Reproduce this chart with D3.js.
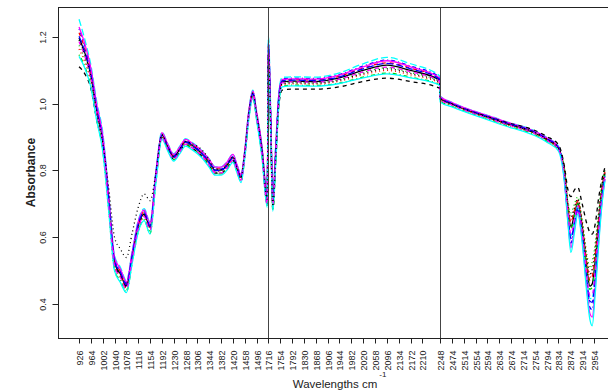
<!DOCTYPE html>
<html>
<head>
<meta charset="utf-8">
<script src="https://cdn.jsdelivr.net/npm/d3@7"></script>
<style>
  body { margin: 0; background: #fff; }
  text { font-family: "Liberation Sans", Arial, Helvetica, sans-serif; }
</style>
</head>
<body>
<svg id="chart" width="608" height="391"></svg>
<script>
// spectra grid (cm-1); 1530..1716 and 2248..2474 are cut out of the axis
const wavenumbers = [926, 945, 964, 983, 1002, 1021, 1040, 1059, 1078, 1097, 1116, 1135, 1154, 1173, 1192, 1211, 1230, 1249, 1268, 1287, 1306, 1325, 1344, 1363, 1382, 1401, 1420, 1432, 1446, 1458, 1470, 1484, 1496, 1513, 1530,
  1716, 1723, 1730, 1740, 1750, 1760, 1792, 1868, 1944, 2020, 2096, 2172, 2246,
  2248, 2474, 2634, 2794, 2834, 2854, 2866, 2876, 2888, 2899, 2914, 2930, 2940, 2948, 2958, 2970, 2980, 2991];

const sample01 = [1.196,1.150,1.084,0.978,0.888,0.710,0.525,0.490,0.455,0.545,0.635,0.670,0.630,0.785,0.906,0.871,0.841,0.863,0.886,0.876,0.863,0.846,0.824,0.801,0.801,0.816,0.839,0.811,0.779,0.851,0.962,1.031,0.967,0.862,0.712,
  1.164,0.954,0.703,0.863,1.022,1.065,1.067,1.066,1.077,1.099,1.115,1.099,1.070,
  1.015,0.998,0.947,0.893,0.866,0.793,0.684,0.632,0.670,0.703,0.629,0.507,0.454,0.461,0.529,0.646,0.734,0.792];
const sample02 = [1.212,1.163,1.094,0.987,0.897,0.719,0.533,0.498,0.461,0.551,0.641,0.676,0.636,0.791,0.911,0.876,0.846,0.868,0.891,0.881,0.868,0.851,0.830,0.807,0.807,0.822,0.845,0.817,0.785,0.857,0.968,1.036,0.973,0.870,0.720,
  1.176,0.966,0.710,0.872,1.028,1.069,1.072,1.071,1.082,1.106,1.122,1.106,1.074,
  1.018,1.000,0.949,0.895,0.868,0.798,0.692,0.646,0.680,0.709,0.637,0.521,0.472,0.483,0.547,0.658,0.742,0.796];
const sample03 = [1.174,1.132,1.070,0.966,0.876,0.692,0.510,0.475,0.443,0.533,0.623,0.658,0.618,0.773,0.900,0.865,0.835,0.857,0.880,0.870,0.857,0.840,0.817,0.794,0.794,0.809,0.832,0.804,0.772,0.844,0.954,1.025,0.959,0.852,0.702,
  1.152,0.942,0.695,0.854,1.016,1.060,1.063,1.062,1.072,1.093,1.107,1.093,1.065,
  1.012,0.996,0.945,0.891,0.864,0.808,0.708,0.674,0.700,0.721,0.653,0.549,0.508,0.527,0.583,0.682,0.758,0.804];
const sample04 = [1.223,1.172,1.101,0.993,0.903,0.725,0.538,0.503,0.465,0.555,0.645,0.680,0.640,0.795,0.909,0.874,0.844,0.866,0.889,0.879,0.866,0.849,0.827,0.804,0.804,0.819,0.842,0.814,0.782,0.854,0.965,1.034,0.970,0.866,0.716,
  1.188,0.978,0.718,0.881,1.034,1.074,1.076,1.075,1.087,1.112,1.130,1.112,1.079,
  1.020,1.002,0.951,0.897,0.870,0.775,0.656,0.583,0.635,0.682,0.601,0.458,0.391,0.384,0.466,0.604,0.706,0.778];
const sample05 = [1.252,1.190,1.115,1.005,0.915,0.734,0.545,0.510,0.471,0.561,0.651,0.686,0.646,0.801,0.915,0.880,0.850,0.872,0.895,0.885,0.872,0.855,0.834,0.811,0.811,0.826,0.849,0.821,0.789,0.861,0.972,1.040,0.977,0.876,0.726,
  1.200,0.990,0.725,0.890,1.040,1.078,1.080,1.079,1.092,1.119,1.138,1.119,1.083,
  1.023,1.004,0.953,0.899,0.872,0.783,0.668,0.604,0.650,0.691,0.613,0.479,0.418,0.417,0.493,0.622,0.718,0.784];
const sample06 = [1.229,1.177,1.105,0.996,0.906,0.728,0.540,0.505,0.467,0.557,0.647,0.682,0.642,0.797,0.913,0.878,0.848,0.870,0.893,0.883,0.870,0.853,0.833,0.810,0.810,0.825,0.848,0.820,0.788,0.860,0.970,1.038,0.975,0.874,0.724,
  1.184,0.974,0.715,0.878,1.032,1.072,1.074,1.073,1.085,1.110,1.128,1.110,1.077,
  1.021,1.003,0.952,0.898,0.871,0.770,0.648,0.569,0.625,0.676,0.593,0.444,0.373,0.362,0.448,0.592,0.698,0.774];
const sample07 = [1.110,1.088,1.045,0.950,0.870,0.704,0.520,0.485,0.451,0.541,0.631,0.666,0.626,0.781,0.898,0.863,0.833,0.855,0.878,0.868,0.855,0.838,0.815,0.792,0.792,0.807,0.830,0.802,0.770,0.842,0.951,1.021,0.956,0.848,0.698,
  1.125,0.915,0.685,0.838,1.000,1.040,1.043,1.043,1.050,1.066,1.076,1.066,1.046,
  1.016,0.999,0.950,0.902,0.877,0.812,0.742,0.722,0.742,0.750,0.700,0.640,0.615,0.610,0.640,0.720,0.770,0.810];
const sample08 = [1.163,1.123,1.063,0.960,0.870,0.701,0.518,0.483,0.449,0.539,0.629,0.664,0.624,0.779,0.903,0.868,0.838,0.860,0.883,0.873,0.860,0.843,0.820,0.797,0.797,0.812,0.835,0.807,0.775,0.847,0.957,1.028,0.962,0.856,0.706,
  1.140,0.930,0.688,0.845,1.010,1.056,1.059,1.058,1.067,1.086,1.099,1.086,1.061,
  1.010,0.994,0.943,0.889,0.862,0.800,0.696,0.653,0.685,0.712,0.641,0.528,0.481,0.494,0.556,0.664,0.746,0.798];
const sample09 = [1.146,1.109,1.052,0.951,0.861,0.683,0.503,0.468,0.437,0.527,0.617,0.652,0.612,0.767,0.897,0.862,0.832,0.854,0.877,0.867,0.854,0.837,0.813,0.790,0.790,0.805,0.828,0.800,0.768,0.840,0.950,1.022,0.955,0.846,0.696,
  1.128,0.918,0.680,0.836,1.004,1.051,1.055,1.054,1.061,1.079,1.091,1.079,1.056,
  1.008,0.992,0.941,0.887,0.860,0.790,0.680,0.625,0.665,0.700,0.625,0.500,0.445,0.450,0.520,0.640,0.730,0.790];
const sample10 = [1.201,1.154,1.087,0.981,0.891,0.716,0.530,0.495,0.459,0.549,0.639,0.674,0.634,0.789,0.905,0.870,0.840,0.862,0.885,0.875,0.862,0.845,0.823,0.800,0.800,0.815,0.838,0.810,0.778,0.850,0.960,1.030,0.965,0.860,0.710,
  1.172,0.962,0.708,0.869,1.026,1.068,1.070,1.069,1.080,1.104,1.120,1.104,1.073,
  1.017,1.000,0.949,0.895,0.868,0.780,0.664,0.597,0.645,0.688,0.609,0.472,0.409,0.406,0.484,0.616,0.714,0.782];
const sample11 = [1.141,1.105,1.049,0.948,0.858,0.680,0.500,0.465,0.435,0.525,0.615,0.650,0.610,0.765,0.893,0.858,0.828,0.850,0.873,0.863,0.850,0.833,0.809,0.786,0.786,0.801,0.824,0.796,0.764,0.836,0.945,1.018,0.950,0.840,0.690,
  1.124,0.914,0.678,0.833,1.002,1.050,1.053,1.052,1.060,1.077,1.089,1.077,1.055,
  1.005,0.990,0.939,0.885,0.858,0.765,0.640,0.555,0.615,0.670,0.585,0.430,0.355,0.336,0.430,0.580,0.690,0.770];
const sample12 = [1.185,1.140,1.077,0.972,0.882,0.698,0.515,0.480,0.447,0.537,0.627,0.662,0.622,0.777,0.899,0.864,0.834,0.856,0.879,0.869,0.856,0.839,0.816,0.793,0.793,0.808,0.831,0.803,0.771,0.843,0.953,1.024,0.958,0.850,0.700,
  1.156,0.946,0.698,0.857,1.018,1.062,1.065,1.064,1.073,1.095,1.109,1.095,1.067,
  1.013,0.996,0.945,0.891,0.864,0.785,0.672,0.611,0.655,0.694,0.617,0.486,0.427,0.428,0.502,0.628,0.722,0.786];
const sample13 = [1.190,1.145,1.080,0.975,0.885,0.750,0.600,0.565,0.540,0.615,0.690,0.730,0.710,0.795,0.907,0.872,0.842,0.864,0.887,0.880,0.872,0.857,0.833,0.805,0.803,0.818,0.841,0.813,0.781,0.853,0.963,1.032,0.968,0.864,0.714,
  1.148,0.938,0.693,0.851,1.014,1.059,1.062,1.061,1.070,1.090,1.104,1.090,1.064,
  1.016,0.999,0.948,0.894,0.867,0.803,0.700,0.660,0.690,0.715,0.645,0.535,0.490,0.505,0.565,0.670,0.750,0.800];

const samples = [sample01, sample02, sample03, sample04, sample05, sample06, sample07,
  sample08, sample09, sample10, sample11, sample12, sample13];

const xTickLabels = [926, 964, 1002, 1040, 1078, 1116, 1154, 1192, 1230, 1268, 1306, 1344, 1382, 1420, 1458, 1496,
  1716, 1754, 1792, 1830, 1868, 1906, 1944, 1982, 2020, 2058, 2096, 2134, 2172, 2210,
  2248, 2474, 2514, 2554, 2594, 2634, 2674, 2714, 2754, 2794, 2834, 2874, 2914, 2954];
const yTickValues = [0.4, 0.6, 0.8, 1.0, 1.2];
const regionStarts = [1716, 2248];

// matplot defaults: col = 1:6, lty = 1:5
const palette = ['#000000', '#FF0000', '#00CD00', '#0000FF', '#00FFFF', '#FF00FF'];
const dashes = [null, '4,4', '1,3', '1,3,4,3', '7,3'];

const box = { left: 58, right: 626, top: 7, bottom: 338 };

const svg = d3.select('#chart');
svg.append('rect').attr('width', 608).attr('height', 391).attr('fill', '#fff');

// wavenumber -> column index (the spectrum is plotted against its index)
const toIndex = d3.scaleLinear()
  .domain([926, 1534, 1716, 2210, 2246, 2248, 2474, 2994])
  .range([0, 16, 16, 29, 30.45, 30.5, 31.5, 44.5]);

// R style 4% padding
const pad = ([a, b]) => [a - (b - a) * 0.04, b + (b - a) * 0.04];

const x = d3.scaleLinear()
  .domain(pad(d3.extent(wavenumbers, w => toIndex(w))))
  .range([box.left, box.right]);

const y = d3.scaleLinear()
  .domain(pad(d3.extent(samples.flat())))
  .range([box.bottom, box.top]);

const line = d3.line()
  .x((d, i) => x(toIndex(wavenumbers[i])))
  .y(d => y(d))
  .curve(d3.curveMonotoneX);

svg.append('g')
  .selectAll('path')
  .data(samples)
  .enter()
  .append('path')
  .attr('d', line)
  .attr('fill', 'none')
  .attr('stroke', (d, i) => palette[i % 6])
  .attr('stroke-width', 1.3)
  .attr('stroke-dasharray', (d, i) => dashes[i % 5]);

// region separators
svg.selectAll('.sep')
  .data(regionStarts)
  .enter()
  .append('line')
  .attr('class', 'sep')
  .attr('x1', w => Math.round(x(toIndex(w))) + 0.5)
  .attr('x2', w => Math.round(x(toIndex(w))) + 0.5)
  .attr('y1', box.top)
  .attr('y2', box.bottom)
  .attr('stroke', '#444')
  .attr('stroke-width', 1);

// frame
svg.append('rect')
  .attr('x', box.left + 0.5)
  .attr('y', box.top + 0.5)
  .attr('width', box.right - box.left)
  .attr('height', box.bottom - box.top)
  .attr('fill', 'none')
  .attr('stroke', '#222')
  .attr('stroke-width', 1);

// x axis
const xt = svg.append('g').selectAll('g')
  .data(xTickLabels)
  .enter()
  .append('g')
  .attr('transform', w => `translate(${Math.round(x(toIndex(w))) + 0.5},${box.bottom + 0.5})`);
xt.append('line').attr('y2', 5).attr('stroke', '#222');
xt.append('text')
  .attr('transform', 'translate(0,12) rotate(-90)')
  .attr('text-anchor', 'end')
  .attr('dy', '0.35em')
  .attr('font-size', 9)
  .attr('fill', '#222')
  .text(w => w);

// y axis
const yt = svg.append('g').selectAll('g')
  .data(yTickValues)
  .enter()
  .append('g')
  .attr('transform', v => `translate(${box.left + 0.5},${Math.round(y(v)) + 0.5})`);
yt.append('line').attr('x2', -6).attr('stroke', '#222');
yt.append('text')
  .attr('transform', 'translate(-13,0) rotate(-90)')
  .attr('text-anchor', 'middle')
  .attr('font-size', 9)
  .attr('fill', '#222')
  .text(d3.format('.1f'));

// axis titles
svg.append('text')
  .attr('transform', `translate(35,${(box.top + box.bottom) / 2}) rotate(-90)`)
  .attr('text-anchor', 'middle')
  .attr('font-size', 12)
  .attr('font-weight', 'bold')
  .attr('fill', '#222')
  .text('Absorbance');

const xTitle = svg.append('text')
  .attr('x', 335)
  .attr('y', 388)
  .attr('text-anchor', 'middle')
  .attr('font-size', 11.5)
  .attr('fill', '#222')
  .text('Wavelengths cm');
const titleEnd = 335 + xTitle.node().getComputedTextLength() / 2;
svg.append('text')
  .attr('x', titleEnd + 2)
  .attr('y', 377)
  .attr('font-size', 8)
  .attr('fill', '#222')
  .text('-1');
</script>
</body>
</html>
